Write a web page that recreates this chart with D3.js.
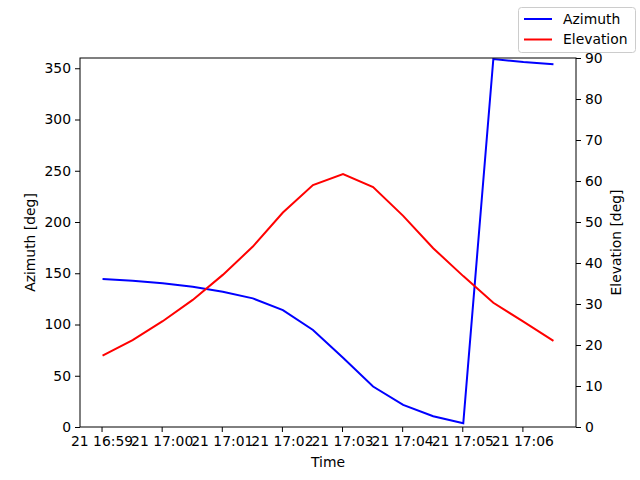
<!DOCTYPE html>
<html>
<head>
<meta charset="utf-8">
<script src="https://cdn.jsdelivr.net/npm/d3@7"></script>
<style>
  body { margin: 0; background: #fff; }
  text { font-family: "DejaVu Sans", sans-serif; fill: #000; }
</style>
</head>
<body>
<svg width="640" height="480"></svg>
<script>
// sample times (all on the 21st)
var times = ["16:59:01", "16:59:31", "17:00:01", "17:00:31", "17:01:01", "17:01:31",
  "17:02:01", "17:02:31", "17:03:01", "17:03:31", "17:04:01", "17:04:31",
  "17:05:01", "17:05:31", "17:06:01", "17:06:31"]
var azimuth = [144.4, 142.7, 140.2, 136.9, 132.0, 125.5, 114.1, 94.6, 67.5, 39.5, 21.5,
  10.5, 3.7, 359.0, 356.0, 354.0]
var elevation = [17.4, 21.2, 25.8, 31.0, 37.1, 44.0, 52.3, 59.0, 61.7, 58.5, 51.5,
  43.6, 36.8, 30.3, 25.7, 21.0]
var tickTimes = ["16:59:00", "17:00:00", "17:01:00", "17:02:00", "17:03:00",
  "17:04:00", "17:05:00", "17:06:00"]
var azTicks = [0, 50, 100, 150, 200, 250, 300, 350]
var elTicks = [0, 10, 20, 30, 40, 50, 60, 70, 80, 90]

var parse = d3.timeParse("%Y-%m-%d %H:%M:%S")
function toDate(t) { return parse("2021-06-21 " + t) }

var rows = times.map(function(t, i) {
  return {t: toDate(t), az: azimuth[i], el: elevation[i]}
})

var mLeft = 80, mRight = 576, mTop = 58, mBottom = 427

var ext = d3.extent(rows, function(d) { return d.t })
var pad = (ext[1] - ext[0]) * 0.05
var x = d3.scaleTime()
  .domain([new Date(+ext[0] - pad), new Date(+ext[1] + pad)])
  .range([mLeft, mRight])
var yAz = d3.scaleLinear().domain([0, 360]).range([mBottom, mTop])
var yEl = d3.scaleLinear().domain([0, 90]).range([mBottom, mTop])

var svg = d3.select("svg")

// lines
svg.append("path")
  .datum(rows)
  .attr("fill", "none")
  .attr("stroke", "#0000ff")
  .attr("stroke-width", 2)
  .attr("d", d3.line().x(function(d) { return x(d.t) }).y(function(d) { return yAz(d.az) }))

svg.append("path")
  .datum(rows)
  .attr("fill", "none")
  .attr("stroke", "#ff0000")
  .attr("stroke-width", 2)
  .attr("d", d3.line().x(function(d) { return x(d.t) }).y(function(d) { return yEl(d.el) }))

// axes
var fmt = d3.timeFormat("%d %H:%M")
var xAxis = d3.axisBottom(x).tickValues(tickTimes.map(toDate)).tickFormat(fmt)
  .tickSizeOuter(0).tickSize(5).tickPadding(4)
var gx = svg.append("g").attr("transform", "translate(0," + mBottom + ")").call(xAxis)

var gl = svg.append("g").attr("transform", "translate(" + mLeft + ",0)")
  .call(d3.axisLeft(yAz).tickValues(azTicks).tickSizeOuter(0).tickSize(5).tickPadding(4))
var gr = svg.append("g").attr("transform", "translate(" + mRight + ",0)")
  .call(d3.axisRight(yEl).tickValues(elTicks).tickSizeOuter(0).tickSize(5).tickPadding(4))

svg.selectAll(".tick text").style("font-family", "DejaVu Sans").style("font-size", "13.9px").attr("fill", "#000")
svg.selectAll(".tick line").attr("stroke", "#000").attr("stroke-width", 1)
svg.selectAll(".domain").remove()
gx.selectAll(".tick text").attr("dy", "0.71em")

// frame
svg.append("rect")
  .attr("x", mLeft).attr("y", mTop)
  .attr("width", mRight - mLeft).attr("height", mBottom - mTop)
  .attr("fill", "none").attr("stroke", "#000").attr("stroke-width", 1)

// axis labels
svg.append("text").attr("x", (mLeft + mRight) / 2).attr("y", 467)
  .attr("text-anchor", "middle").style("font-size", "13.9px").text("Time")
svg.append("text").attr("transform", "translate(35," + (mTop + mBottom) / 2 + ") rotate(-90)")
  .attr("text-anchor", "middle").style("font-size", "13.9px").text("Azimuth [deg]")
svg.append("text").attr("transform", "translate(621," + (mTop + mBottom) / 2 + ") rotate(-90)")
  .attr("text-anchor", "middle").style("font-size", "13.9px").text("Elevation [deg]")

// legend
var lg = svg.append("g")
lg.append("rect").attr("x", 518.5).attr("y", 7.5).attr("width", 117).attr("height", 45)
  .attr("rx", 3).attr("fill", "#fff").attr("fill-opacity", 0.8)
  .attr("stroke", "#cccccc").attr("stroke-width", 1)
var items = [{name: "Azimuth", color: "#0000ff"}, {name: "Elevation", color: "#ff0000"}]
items.forEach(function(it, i) {
  var yy = 19 + i * 20.5
  lg.append("line").attr("x1", 524).attr("x2", 552).attr("y1", yy).attr("y2", yy)
    .attr("stroke", it.color).attr("stroke-width", 2)
  lg.append("text").attr("x", 563).attr("y", yy).attr("dy", "0.35em")
    .style("font-size", "13.9px").text(it.name)
})
</script>
</body>
</html>
